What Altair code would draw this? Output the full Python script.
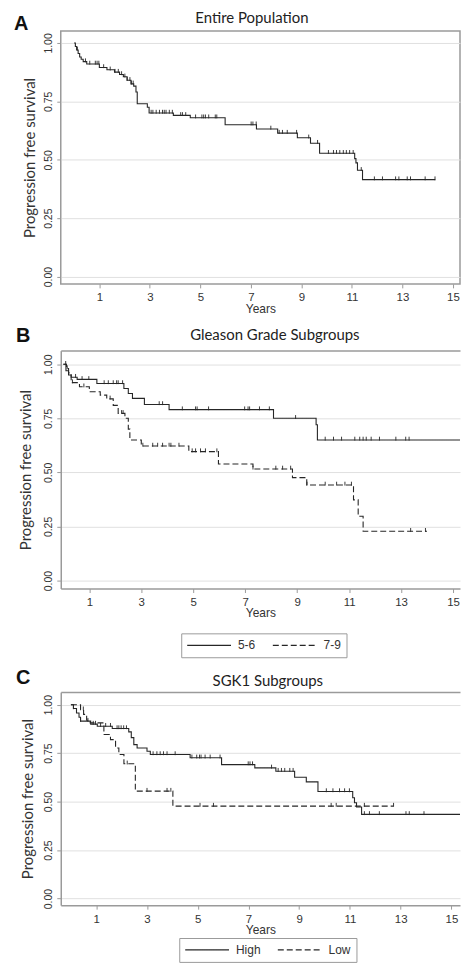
import altair as alt
import pandas as pd

YEAR_TICKS = [1, 3, 5, 7, 9, 11, 13, 15]
SURV_TICKS = [0.0, 0.25, 0.5, 0.75, 1.0]

# ---------------- Panel A: Entire population ----------------
a_t = [0.0, 0.05, 0.10, 0.16, 0.22, 0.28, 0.36, 0.50, 1.00, 1.30, 1.60, 1.80, 1.95, 2.10, 2.25, 2.36, 2.45,
       2.50, 2.90, 2.97, 3.93, 4.60, 5.98, 7.22, 8.06, 8.84, 9.36, 9.72, 11.11, 11.16, 11.22, 11.42, 14.30]
a_s = [1.00, 0.985, 0.97, 0.955, 0.94, 0.93, 0.92, 0.91, 0.895, 0.885, 0.875, 0.865, 0.855, 0.84, 0.825, 0.815, 0.79,
       0.74, 0.725, 0.70, 0.69, 0.68, 0.65, 0.632, 0.614, 0.594, 0.571, 0.528, 0.505, 0.487, 0.455, 0.415, 0.415]
a_cens = [0.13, 0.45, 0.62, 0.84, 0.91, 0.98, 1.17, 1.43, 1.62, 1.75, 1.88, 2.01, 2.10, 2.21, 2.27, 2.34,
          3.05, 3.12, 3.25, 3.38, 3.50, 3.57, 3.64, 3.77, 3.89, 4.22, 4.29, 4.42, 4.81, 5.06, 5.13, 5.20,
          5.33, 5.59, 5.65, 7.01, 7.08, 7.21, 7.79, 8.12, 8.25, 8.44, 8.81, 9.29, 9.64, 10.07, 10.27, 10.39,
          10.52, 10.66, 10.78, 10.91, 11.05, 11.37, 11.89, 12.21, 12.73, 12.86, 13.19, 13.32, 13.90, 14.29]

# ---------------- Panel B: Gleason grade ----------------
b_groups = ["5-6", "7-9"]
b1_t = [0.0, 0.10, 0.20, 0.30, 0.53, 1.29, 2.33, 2.50, 2.66, 3.12, 4.07, 8.09, 9.73, 9.78, 15.6]
b1_s = [1.0, 0.97, 0.95, 0.94, 0.93, 0.911, 0.888, 0.865, 0.842, 0.814, 0.79, 0.75, 0.72, 0.65, 0.65]
b1_cens = [0.09, 0.47, 0.72, 0.98, 1.57, 1.73, 1.92, 2.05, 2.11, 2.28, 3.69, 3.82, 4.58, 5.09, 5.15, 5.59,
           6.98, 7.11, 7.17, 7.55, 7.93, 8.94, 10.08, 10.40, 10.71, 11.22, 11.41, 11.54, 11.66, 11.85,
           12.17, 12.80, 13.18, 13.31]
b2_t = [0.0, 0.12, 0.20, 0.30, 0.62, 1.00, 1.42, 1.67, 1.92, 2.11, 2.37, 2.50, 2.56, 3.00, 4.83, 5.97,
        7.30, 8.82, 9.37, 11.17, 11.35, 11.54, 14.0]
b2_s = [1.0, 0.98, 0.96, 0.915, 0.896, 0.873, 0.857, 0.84, 0.81, 0.773, 0.75, 0.70, 0.65, 0.622, 0.596, 0.539,
        0.516, 0.476, 0.442, 0.373, 0.297, 0.228, 0.228]
b2_cens = [0.15, 0.35, 0.79, 1.80, 2.24, 2.30, 3.06, 3.44, 3.63, 3.82, 4.07, 4.14, 4.45, 4.96, 5.09, 5.28,
           5.47, 5.91, 7.30, 8.18, 8.44, 8.75, 9.38, 10.08, 10.52, 10.84, 11.09, 13.37, 13.94]

# ---------------- Panel C: SGK1 ----------------
c_groups = ["High", "Low"]
c1_t = [0.0, 0.10, 0.22, 0.32, 0.38, 0.78, 1.04, 1.63, 2.28, 2.38, 2.48, 2.61, 3.00, 3.13, 4.70, 5.94,
        7.25, 8.08, 8.82, 9.28, 9.74, 11.11, 11.18, 11.26, 11.46, 15.45]
c1_s = [1.0, 0.98, 0.957, 0.935, 0.915, 0.90, 0.889, 0.877, 0.86, 0.83, 0.794, 0.777, 0.76, 0.743, 0.726,
        0.691, 0.674, 0.657, 0.626, 0.602, 0.552, 0.52, 0.494, 0.472, 0.434, 0.434]
c1_cens = [0.10, 0.38, 0.67, 0.88, 0.97, 1.17, 1.37, 1.56, 1.82, 1.89, 1.98, 2.08, 2.19, 3.24, 3.39, 3.52,
           3.65, 3.79, 4.11, 4.77, 4.96, 5.07, 5.13, 5.29, 5.49, 5.88, 6.99, 7.06, 7.16, 7.91, 8.17, 8.30,
           8.43, 8.63, 8.76, 10.07, 10.33, 10.59, 10.79, 10.98, 11.57, 11.77, 12.16, 13.21, 13.34, 13.92]
c2_t = [0.0, 0.38, 0.50, 0.62, 0.76, 1.30, 1.56, 1.76, 1.89, 2.09, 2.54, 4.02, 12.72]
c2_s = [1.0, 0.974, 0.95, 0.92, 0.906, 0.846, 0.82, 0.777, 0.743, 0.695, 0.554, 0.477, 0.477]
c2_cens = [0.49, 2.22, 3.00, 3.79, 3.94, 5.09, 5.62, 10.26, 10.46, 11.57, 12.72]

INK = "#262626"
FRAME = "#9a9a9a"
GRID = "#e0e0e0"
TXT = "#333333"
TICK_SHAPE = "M0,-1V0.2"


def step_at(ts, ss, x):
    v = ss[0]
    for t, s in zip(ts, ss):
        if t <= x + 1e-9:
            v = s
    return v


def curve_df(ts, ss, grp):
    return pd.DataFrame({"t": ts, "s": ss, "g": grp})


def cens_df(ts, ss, cs, grp):
    return pd.DataFrame({"t": cs, "s": [step_at(ts, ss, c) for c in cs], "g": grp})


def x_axis(domain):
    return alt.Axis(orient="bottom", values=YEAR_TICKS, title="Years", grid=False, domain=domain,
                    domainColor=FRAME, domainWidth=1.5, tickColor=FRAME, tickSize=4, tickWidth=1,
                    labelFont="Liberation Sans", labelFontSize=11.5, labelColor=TXT, labelPadding=4,
                    titleFont="Liberation Sans", titleFontSize=12, titleFontWeight="normal",
                    titleColor=TXT, titlePadding=0)


def top_axis():
    return alt.Axis(orient="top", labels=False, ticks=False, title=None, grid=False, domain=True,
                    domainColor=FRAME, domainWidth=1.5)


def y_axis(domain, tp):
    return alt.Axis(values=SURV_TICKS, format=".2f", title="Progression free survival", grid=True,
                    gridColor=GRID, gridWidth=1, domain=domain, domainColor=FRAME, domainWidth=1.5,
                    tickColor=FRAME, tickSize=4, tickWidth=1, labelAngle=270, labelAlign="center",
                    labelBaseline="bottom", labelFont="Liberation Sans", labelFontSize=10.5,
                    labelColor=TXT, labelPadding=3, titleFont="Lato", titleFontSize=15,
                    titleFontWeight="normal", titleColor=TXT, titlePadding=tp)


def heading(lab, lx, ly, title, tx, ty):
    """Panel letter and panel title, placed as text above the plot area."""
    let = alt.Chart(pd.DataFrame({"l": [lab]})).mark_text(
        font="Liberation Sans", fontSize=20, fontWeight="bold", align="left", baseline="middle",
        color="#111111").encode(text="l:N", x=alt.value(lx), y=alt.value(ly))
    tit = alt.Chart(pd.DataFrame({"l": [title]})).mark_text(
        font="Lato", fontSize=15, fontWeight="normal", align="center", baseline="middle",
        color="#222222").encode(text="l:N", x=alt.value(tx), y=alt.value(ty))
    return [let, tit]


# ---- Panel A ----
a_line = curve_df(a_t, a_s, "all")
a_cdf = cens_df(a_t, a_s, a_cens, "all")
sxA = alt.Scale(domain=[-0.528, 15.28], nice=False, zero=False)
syA = alt.Scale(domain=[-0.031, 1.051], nice=False, zero=False)
lineA = alt.Chart(a_line).mark_line(interpolate="step-after", color=INK, strokeWidth=1.1).encode(
    x=alt.X("t:Q", scale=sxA, axis=x_axis(False)),
    y=alt.Y("s:Q", scale=syA, axis=y_axis(False, 6)))
censA = alt.Chart(a_cdf).mark_point(shape=TICK_SHAPE, size=42, color=INK, strokeWidth=0.9, filled=False,
                                    opacity=1).encode(
    x=alt.X("t:Q", scale=sxA, axis=x_axis(False)),
    y=alt.Y("s:Q", scale=syA, axis=y_axis(False, 6)))
panelA = alt.layer(lineA, censA, *heading("A", -47, -7.5, "Entire Population", 192, -13)).properties(
    width=401, height=254, view=alt.ViewBackground(stroke=FRAME, strokeWidth=1.5))


def group_panel(t1, s1, c1, t2, s2, c2, groups, sx, sy, w, h, lx, ly, legx, legy, title, tx, ty, lab, tp):
    lines = pd.concat([curve_df(t1, s1, groups[0]), curve_df(t2, s2, groups[1])])
    cens = pd.concat([cens_df(t1, s1, c1, groups[0]), cens_df(t2, s2, c2, groups[1])])
    line = alt.Chart(lines).mark_line(interpolate="step-after", color=INK, strokeWidth=1.1, clip=True).encode(
        x=alt.X("t:Q", scale=sx, axis=x_axis(True)),
        y=alt.Y("s:Q", scale=sy, axis=y_axis(True, tp)),
        strokeDash=alt.StrokeDash("g:N", scale=alt.Scale(domain=groups, range=[[1, 0], [6, 3]]),
                                  legend=alt.Legend(orient="none", legendX=legx, legendY=legy,
                                                    direction="horizontal", title=None,
                                                    strokeColor=FRAME, padding=5,
                                                    symbolType="stroke", symbolSize=1936,
                                                    clipHeight=14, symbolStrokeWidth=1.2,
                                                    symbolStrokeColor=INK,
                                                    labelFont="Liberation Sans", labelFontSize=12,
                                                    labelColor=TXT, labelOffset=6, columnPadding=16)),
        detail="g:N")
    cpts = alt.Chart(cens).mark_point(shape=TICK_SHAPE, size=42, color=INK, strokeWidth=0.9, filled=False,
                                      opacity=1, clip=True).encode(
        x=alt.X("t:Q", scale=sx, axis=top_axis()),
        y=alt.Y("s:Q", scale=sy, axis=y_axis(True, tp)))
    return alt.layer(line, cpts, *heading(lab, lx, ly, title, tx, ty)).properties(
        width=w, height=h, view=alt.ViewBackground(stroke=None))


panelB = group_panel(b1_t, b1_s, b1_cens, b2_t, b2_s, b2_cens, b_groups,
                     alt.Scale(domain=[-0.10, 15.27], nice=False, zero=False),
                     alt.Scale(domain=[-0.037, 1.063], nice=False, zero=False),
                     401, 239, -45, -14.5, 121, 284, "Gleason Grade Subgroups", 215, -16, "B", 10)

panelC = group_panel(c1_t, c1_s, c1_cens, c2_t, c2_s, c2_cens, c_groups,
                     alt.Scale(domain=[-0.40, 15.34], nice=False, zero=False),
                     alt.Scale(domain=[-0.034, 1.065], nice=False, zero=False),
                     401, 214, -45, -14, 119, 247, "SGK1 Subgroups", 208, -11, "C", 8)

lower = alt.vconcat(panelB, panelC, spacing=10).resolve_scale(strokeDash="independent").resolve_legend(
    strokeDash="independent")

chart = alt.vconcat(panelA, lower, spacing=10).resolve_scale(
    strokeDash="independent").resolve_legend(strokeDash="independent").properties(
    padding={"left": 5, "top": 0, "right": 0, "bottom": 0}
).configure(background="white")

chart.save("out.html", embed_options={"renderer": "svg", "actions": False})
